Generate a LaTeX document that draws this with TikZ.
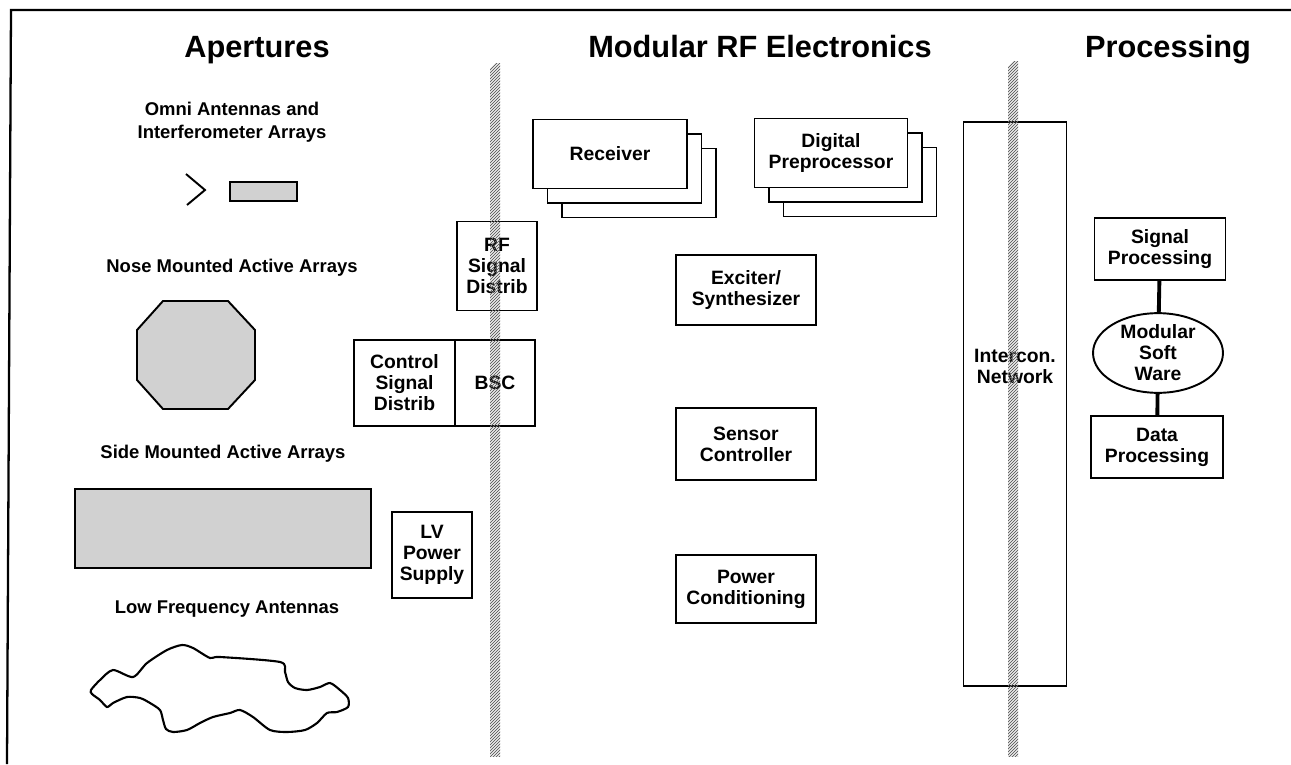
\documentclass[tikz,border=0pt]{standalone}
\usepackage{fontspec}
\setmainfont{Liberation Sans}
\usepackage{tikz}
\usetikzlibrary{positioning,shapes.geometric,shadows}

\begin{document}
\begin{tikzpicture}[x=0.02cm,y=-0.02cm,
  blk/.style={draw,line width=1.1pt,align=center,inner sep=1pt,font=\bfseries\fontsize{11}{12}\selectfont},
  lbl/.style={align=center,anchor=base,font=\bfseries\fontsize{10.5}{13}\selectfont},
  ttl/.style={anchor=base,font=\bfseries\fontsize{17.5}{20}\selectfont},
  stack/.style={blk,fill=white,copy shadow={shadow xshift=0.58cm,shadow yshift=-0.58cm},copy shadow={shadow xshift=0.29cm,shadow yshift=-0.29cm}},
  hatchln/.style={line width=0.45pt,black!60},
  shade/.style={draw,line width=1.1pt,fill=black!18},
  link/.style={line width=2.2pt}]
\useasboundingbox (0,0) rectangle (1291,764);
% frame
\draw[line width=1.3pt] (1291,10) -- (11,10) -- (7,764);
% titles
\node[ttl] (tap) at (257,57) {Apertures};
\node[ttl] (trf) at (760,57) {Modular RF Electronics};
\node[ttl] (tpr) at (1168,57) {Processing};
% apertures
\node[lbl] (omni) at (232,138) {Omni Antennas and\\Interferometer Arrays};
\draw[line width=1.1pt] (186,174) -- (205,190) -- (187,205);
\draw[shade] (230,182) rectangle (297,201);
\node[lbl] (nose) at (232,272) {Nose Mounted Active Arrays};
\draw[shade] (163,301) -- (228,301) -- (255,330) -- (255,380) -- (228,409) -- (163,409) -- (137,380) -- (137,330) -- cycle;
\node[lbl] (side) at (223,458) {Side Mounted Active Arrays};
\draw[shade] (75,489) rectangle (371,568);
\node[lbl] (lowf) at (227,613) {Low Frequency Antennas};
\draw[line width=1.2pt] plot[smooth cycle,tension=0.45] coordinates {
  (91,690) (100,680) (113,670) (133,677) (147,663) (167,650) (182,645) (193,648)
  (210,658) (220,657) (280,662) (285,672) (288,682) (295,688) (307,690) (320,687)
  (330,683) (340,690) (348,698) (348,707) (337,712) (327,713) (317,723) (305,730)
  (287,732) (270,730) (253,717) (240,710) (230,713) (213,717) (200,723) (187,730)
  (173,732) (166,729) (163,720) (160,710) (150,703) (140,698) (127,697) (113,703)
  (107,707) (100,700) (92,694)};
% interface boxes
\node[blk,minimum width=1.6cm,minimum height=1.78cm] (rfd) at (497,266) {RF\\Signal\\Distrib};
\node[blk,minimum width=2.02cm,minimum height=1.72cm] (csd) at (404.5,383) {Control\\Signal\\Distrib};
\node[blk,minimum width=1.6cm,minimum height=1.72cm,right=-1.1pt of csd] (bsc) {BSC};
\node[blk,minimum width=1.6cm,minimum height=1.72cm] (lvps) at (432,555) {LV\\Power\\Supply};
% rf electronics
\node[stack,minimum width=3.08cm,minimum height=1.38cm] (rcv) at (610,154) {Receiver};
\node[stack,minimum width=3.06cm,minimum height=1.38cm] (dpp) at (831,153) {Digital\\Preprocessor};
\node[blk,minimum width=2.8cm,minimum height=1.4cm] (exc) at (746,290) {Exciter/\\Synthesizer};
\node[blk,minimum width=2.8cm,minimum height=1.44cm] (sctl) at (746,444) {Sensor\\Controller};
\node[blk,minimum width=2.8cm,minimum height=1.36cm] (pwr) at (746,589) {Power\\Conditioning};
% processing
\node[draw,line width=1.1pt,minimum width=2.06cm,minimum height=11.3cm] (net) at (1015,404) {};
\node[blk,draw=none] (netl) at (1015,366) {Intercon.\\Network};
\node[blk,minimum width=2.62cm,minimum height=1.24cm] (sig) at (1160,249) {Signal\\Processing};
\node[blk,ellipse,inner sep=0pt,minimum width=2.6cm,minimum height=1.44cm] (sw) at (1158,353) {Modular\\Soft\\Ware};
\node[blk,minimum width=2.64cm,minimum height=1.24cm] (dat) at (1157,447) {Data\\Processing};
\draw[link] (sig) -- (sw);
\draw[link] (sw) -- (dat);
% section dividers
\begin{scope}
  \clip (490,63) rectangle (500,756);
  \foreach \yy in {60,63,...,762} \draw[hatchln] (488,\yy+12) -- (502,\yy-2);
\end{scope}
\begin{scope}
  \clip (1008,61) rectangle (1018,756);
  \foreach \yy in {58,61,...,762} \draw[hatchln] (1006,\yy+12) -- (1020,\yy-2);
\end{scope}
\end{tikzpicture}
\end{document}
